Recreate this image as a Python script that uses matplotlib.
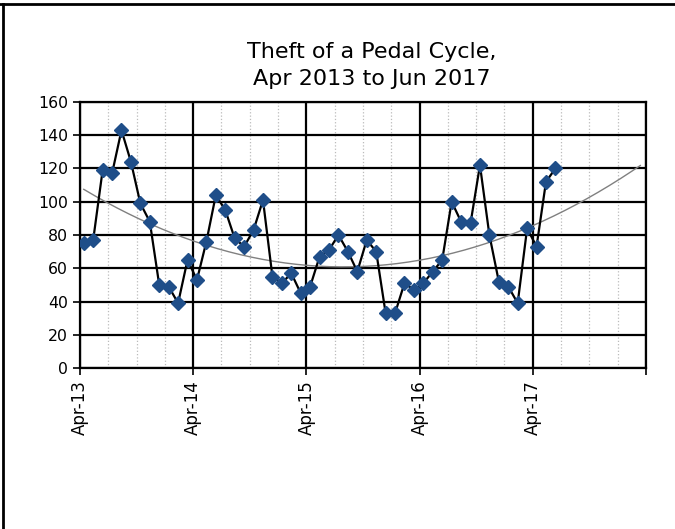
import numpy as np
import matplotlib
matplotlib.use("Agg")
import matplotlib.pyplot as plt
from matplotlib.lines import Line2D

plt.rcParams["font.family"] = ["DejaVu Sans"]

# monthly counts, Apr 2013 .. Jun 2017
thefts = [75, 77, 119, 117, 143, 124, 99, 88, 50, 49, 39, 65,
          53, 76, 104, 95, 78, 73, 83, 101, 55, 51, 57, 45,
          49, 67, 71, 80, 70, 58, 77, 70, 33, 33, 51, 47,
          51, 58, 65, 100, 88, 87, 122, 80, 52, 49, 39, 84,
          73, 112, 120]
year_labels = ["Apr-13", "Apr-14", "Apr-15", "Apr-16", "Apr-17", ""]
forecast_months = 9

fig = plt.figure(figsize=(6.75, 5.29), dpi=100)
ax = fig.add_axes([0.1185, 0.3043, 0.8385, 0.503])

x = np.arange(len(thefts)) + 0.4
y = np.array(thefts)

# order-2 polynomial trendline, projected forward
coef = np.polyfit(x, y, 2)
xt = np.linspace(x[0], x[-1] + forecast_months, 200)
ax.plot(xt, np.polyval(coef, xt), color="#808080", lw=1.0, zorder=3)

ax.plot(x, y, color="black", lw=1.6, marker="D", ms=7.2,
        mfc="#1F4E89", mec="#1F4E89", zorder=4)

ax.set_xlim(0, 60)
ax.set_ylim(0, 160)
ax.set_yticks(range(0, 161, 20))
ax.set_xticks(range(0, 61, 12))
ax.set_xticklabels(year_labels, rotation=90, fontsize=12)
ax.set_xticks(range(0, 61, 3), minor=True)

ax.grid(True, which="major", color="black", lw=1.6, zorder=1)
ax.grid(True, which="minor", axis="x", color="#BBBBBB", lw=0.9, ls=":", zorder=0)
ax.set_axisbelow(True)
for s in ax.spines.values():
    s.set_linewidth(1.6)

ax.tick_params(axis="both", which="major", direction="out", length=5,
               width=1.2, colors="black")
ax.tick_params(axis="y", labelsize=11.3)
ax.tick_params(axis="x", which="minor", length=0)

ax.set_title("Theft of a Pedal Cycle,\nApr 2013 to Jun 2017",
             fontsize=16, pad=12, linespacing=1.45, x=0.515)

# outer frame (left and top edges)
fig.add_artist(Line2D([0.005, 0.005], [0, 0.993], transform=fig.transFigure,
                      color="black", lw=2))
fig.add_artist(Line2D([0.0, 1.0], [0.993, 0.993], transform=fig.transFigure,
                      color="black", lw=2))

fig.savefig("out.png", dpi=100)
